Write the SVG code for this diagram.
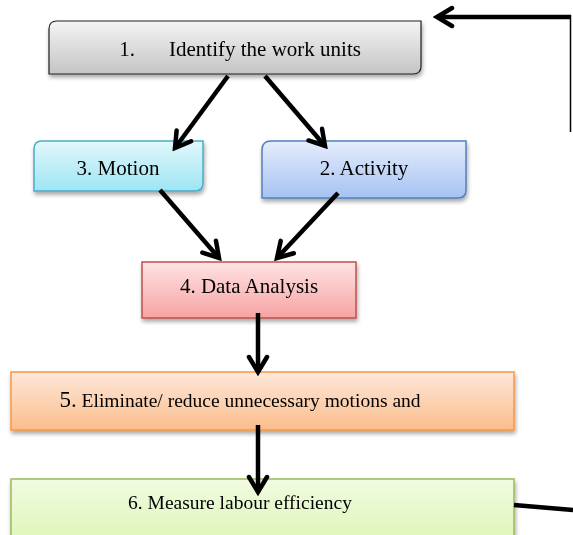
<svg xmlns="http://www.w3.org/2000/svg" width="573" height="535" viewBox="0 0 573 535">
<style>
text{font-family:"Liberation Serif","Times New Roman",serif;font-size:21px;fill:#000;text-anchor:middle}
.sm{font-size:19.5px}
.conn line{stroke:#000;stroke-width:4.5;fill:none}
.box{filter:url(#sh)}
</style>
<defs>
<filter id="sh" x="-10%" y="-20%" width="120%" height="150%"><feGaussianBlur in="SourceAlpha" stdDeviation="2"/><feOffset dx="1" dy="3"/><feComponentTransfer><feFuncA type="linear" slope="0.35"/></feComponentTransfer><feMerge><feMergeNode/><feMergeNode in="SourceGraphic"/></feMerge></filter>
<linearGradient id="g1" x1="0" y1="0" x2="0" y2="1"><stop offset="0" stop-color="#f4f4f4"/><stop offset="1" stop-color="#c4c4c4"/></linearGradient>
<linearGradient id="g3" x1="0" y1="0" x2="0" y2="1"><stop offset="0" stop-color="#e2f8fc"/><stop offset="1" stop-color="#9de5f3"/></linearGradient>
<linearGradient id="g2" x1="0" y1="0" x2="0" y2="1"><stop offset="0" stop-color="#e6edfb"/><stop offset="1" stop-color="#a6c2f3"/></linearGradient>
<linearGradient id="g4" x1="0" y1="0" x2="0" y2="1"><stop offset="0" stop-color="#ffe3e3"/><stop offset="1" stop-color="#f6a3a3"/></linearGradient>
<linearGradient id="g5" x1="0" y1="0" x2="0" y2="1"><stop offset="0" stop-color="#fde8d9"/><stop offset="1" stop-color="#fbbd8c"/></linearGradient>
<linearGradient id="g6" x1="0" y1="0" x2="0" y2="1"><stop offset="0" stop-color="#f1fbe1"/><stop offset="1" stop-color="#dcf5b3"/></linearGradient>
<marker id="ah" viewBox="0 0 24 24" refX="20" refY="12" markerWidth="24" markerHeight="24" markerUnits="userSpaceOnUse" orient="auto"><polyline points="5,3 20,12 5,21" fill="none" stroke="#000" stroke-width="4.5" stroke-linecap="round" stroke-linejoin="miter"/></marker>
</defs>

<g id="n1" class="box"><path d="M57,21 H421 V66 Q421,74 413,74 H49 V29 Q49,21 57,21 Z" fill="url(#g1)" stroke="#222" stroke-width="1.2"/><text x="127" y="56" text-anchor="start">1.</text><text x="265" y="56">Identify the work units</text></g>
<g id="n3" class="box"><path d="M42,141 H203 V183 Q203,191 195,191 H34 V149 Q34,141 42,141 Z" fill="url(#g3)" stroke="#4bacc6" stroke-width="1.5"/><text x="118" y="175">3. Motion</text></g>
<g id="n2" class="box"><path d="M271,141 H466 V190 Q466,198 458,198 H262 V150 Q262,141 271,141 Z" fill="url(#g2)" stroke="#4f81bd" stroke-width="1.5"/><text x="364" y="175">2. Activity</text></g>
<g id="n4" class="box"><rect x="142" y="262" width="214" height="56" fill="url(#g4)" stroke="#c0504d" stroke-width="1.5"/><text x="249" y="293">4. Data Analysis</text></g>
<g id="n5" class="box"><rect x="11" y="372" width="503" height="58" fill="url(#g5)" stroke="#f79646" stroke-width="1.5"/><text class="sm" x="240" y="407"><tspan font-size="23">5.</tspan> Eliminate/ reduce unnecessary motions and</text></g>
<g id="n6" class="box"><rect x="11" y="479" width="503" height="70" fill="url(#g6)" stroke="#9bbb59" stroke-width="1.5"/><text class="sm" x="240" y="509">6. Measure labour efficiency</text></g>

<g id="connectors" class="conn">
<line x1="228" y1="76" x2="175" y2="148" marker-end="url(#ah)"/>
<line x1="265" y1="76" x2="325" y2="146" marker-end="url(#ah)"/>
<line x1="160" y1="190" x2="219" y2="258" marker-end="url(#ah)"/>
<line x1="338" y1="193" x2="277" y2="258" marker-end="url(#ah)"/>
<line x1="258" y1="313" x2="258" y2="372" marker-end="url(#ah)"/>
<line x1="258" y1="425" x2="258" y2="492" marker-end="url(#ah)"/>
<line x1="514" y1="505" x2="573" y2="510"/>
<line x1="570.5" y1="15" x2="570.5" y2="132" style="stroke-width:1.5"/>
<line x1="571" y1="17" x2="437" y2="17" marker-end="url(#ah)"/>
</g>
</svg>
